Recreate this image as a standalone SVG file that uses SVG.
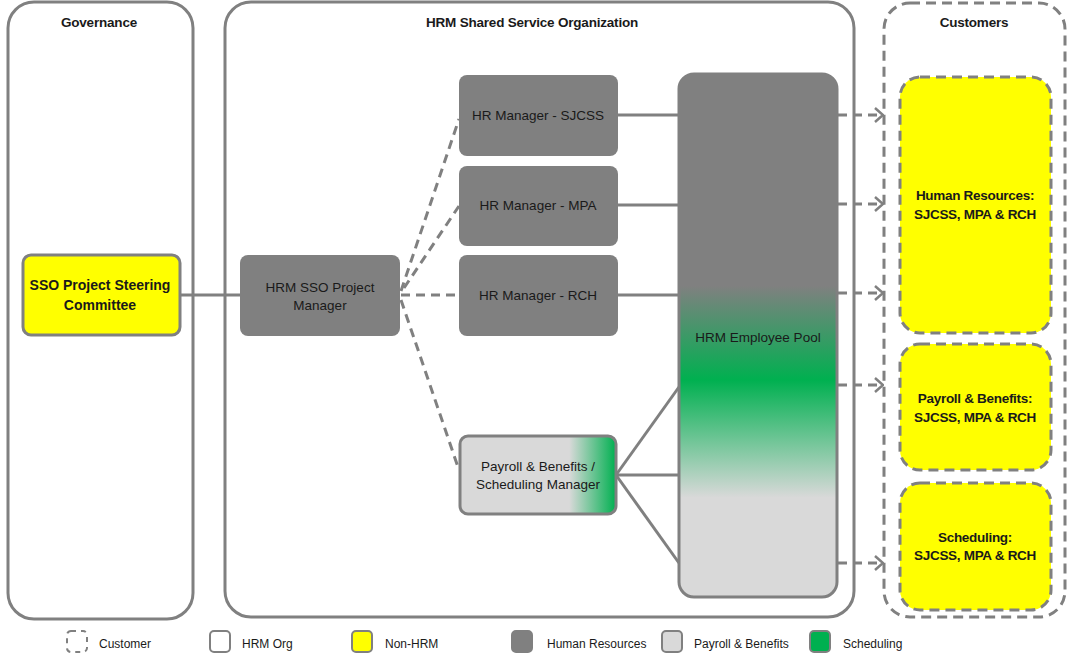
<svg xmlns="http://www.w3.org/2000/svg" width="1069" height="655" viewBox="0 0 1069 655">
<defs>
<style>
.outer{fill:#fff;stroke:#808080;stroke-width:3}
.dash{stroke-dasharray:10,6}
.gray{fill:#808080}
.t{font-family:"Liberation Sans",Arial,sans-serif;fill:#1a1a1a;text-anchor:middle}
.title{font-size:13.5px;font-weight:bold;letter-spacing:-0.2px}
.n{font-size:13.5px}
.b{font-size:14px;font-weight:bold}
.cb{font-size:13.5px;font-weight:bold;letter-spacing:-0.3px}
.lg{font-family:"Liberation Sans",Arial,sans-serif;fill:#1a1a1a;font-size:12px}
.ln{fill:none;stroke:#808080;stroke-width:3}
.lnd{fill:none;stroke:#808080;stroke-width:3;stroke-dasharray:9,6}
.ico{stroke:#808080;stroke-width:2}
</style>
<linearGradient id="poolg" x1="0" y1="0" x2="0" y2="1">
<stop offset="0" stop-color="#808080"/>
<stop offset="0.405" stop-color="#808080"/>
<stop offset="0.585" stop-color="#00b050"/>
<stop offset="0.81" stop-color="#d9d9d9"/>
<stop offset="1" stop-color="#d9d9d9"/>
</linearGradient>
<linearGradient id="payg" x1="0" y1="0" x2="1" y2="0">
<stop offset="0" stop-color="#d9d9d9"/>
<stop offset="0.7" stop-color="#d9d9d9"/>
<stop offset="1" stop-color="#00b050"/>
</linearGradient>
<marker id="chev" viewBox="0 0 10 16" refX="9" refY="8" markerWidth="10" markerHeight="16" markerUnits="userSpaceOnUse" orient="auto">
<path d="M1,1 L9,8 L1,15" fill="none" stroke="#808080" stroke-width="2.5"/>
</marker>
</defs>

<g id="governance">
<rect class="outer" x="8" y="2" width="185" height="617" rx="26"/>
<text class="t title" x="99" y="27">Governance</text>
</g>
<g id="hrm-sso">
<rect class="outer" x="225" y="2" width="629" height="615" rx="26"/>
<text class="t title" x="532" y="27">HRM Shared Service Organization</text>
</g>
<g id="customers">
<rect class="outer dash" x="884" y="3" width="181" height="614" rx="26"/>
<text class="t title" x="974" y="27">Customers</text>
</g>

<g id="connectors">
<line class="ln" x1="180" y1="295" x2="240" y2="295"/>
<line class="lnd" x1="401" y1="291" x2="459" y2="119"/>
<line class="lnd" x1="404" y1="288" x2="459" y2="206"/>
<line class="lnd" x1="401" y1="295" x2="459" y2="295"/>
<line class="lnd" x1="401" y1="300" x2="459" y2="470"/>
<line class="ln" x1="618" y1="115" x2="679" y2="115"/>
<line class="ln" x1="618" y1="205" x2="679" y2="205"/>
<line class="ln" x1="618" y1="295" x2="679" y2="295"/>
<line class="ln" x1="616" y1="475" x2="679" y2="387"/>
<line class="ln" x1="616" y1="475" x2="679" y2="475"/>
<line class="ln" x1="616" y1="475" x2="679" y2="563"/>
<line class="lnd" x1="838" y1="115" x2="883" y2="115" marker-end="url(#chev)"/>
<line class="lnd" x1="838" y1="204" x2="883" y2="204" marker-end="url(#chev)"/>
<line class="lnd" x1="838" y1="293" x2="883" y2="293" marker-end="url(#chev)"/>
<line class="lnd" x1="838" y1="385" x2="883" y2="385" marker-end="url(#chev)"/>
<line class="lnd" x1="838" y1="563" x2="883" y2="563" marker-end="url(#chev)"/>
</g>

<g id="steering">
<rect x="23" y="255" width="157" height="80" rx="8" fill="#ffff00" stroke="#808080" stroke-width="3"/>
<text class="t b" x="100" y="290">SSO Project Steering</text>
<text class="t b" x="100" y="310">Committee</text>
</g>
<g id="project-manager">
<rect class="gray" x="240" y="255" width="160" height="81" rx="8"/>
<text class="t n" x="320" y="292">HRM SSO Project</text>
<text class="t n" x="320" y="310">Manager</text>
</g>
<g id="hr-sjcss">
<rect class="gray" x="459" y="75" width="159" height="81" rx="8"/>
<text class="t n" x="538" y="120">HR Manager - SJCSS</text>
</g>
<g id="hr-mpa">
<rect class="gray" x="459" y="166" width="159" height="80" rx="8"/>
<text class="t n" x="538" y="210">HR Manager - MPA</text>
</g>
<g id="hr-rch">
<rect class="gray" x="459" y="255" width="159" height="81" rx="8"/>
<text class="t n" x="538" y="300">HR Manager - RCH</text>
</g>
<g id="payroll-manager">
<rect x="460" y="436" width="156" height="78" rx="8" fill="url(#payg)" stroke="#808080" stroke-width="3"/>
<text class="t n" x="538" y="471">Payroll &amp; Benefits /</text>
<text class="t n" x="538" y="489">Scheduling Manager</text>
</g>
<g id="employee-pool">
<rect x="679" y="74" width="158" height="523" rx="15" fill="url(#poolg)" stroke="#808080" stroke-width="3"/>
<text class="t n" x="758" y="342">HRM Employee Pool</text>
</g>
<g id="cust-hr">
<rect x="900" y="77" width="151" height="256" rx="20" fill="#ffff00" stroke="#808080" stroke-width="3" stroke-dasharray="10,6"/>
<text class="t cb" x="975" y="200">Human Resources:</text>
<text class="t cb" x="975" y="219">SJCSS, MPA &amp; RCH</text>
</g>
<g id="cust-payroll">
<rect x="900" y="344" width="151" height="126" rx="20" fill="#ffff00" stroke="#808080" stroke-width="3" stroke-dasharray="10,6"/>
<text class="t cb" x="975" y="403">Payroll &amp; Benefits:</text>
<text class="t cb" x="975" y="422">SJCSS, MPA &amp; RCH</text>
</g>
<g id="cust-scheduling">
<rect x="900" y="483" width="151" height="127" rx="20" fill="#ffff00" stroke="#808080" stroke-width="3" stroke-dasharray="10,6"/>
<text class="t cb" x="975" y="542">Scheduling:</text>
<text class="t cb" x="975" y="560">SJCSS, MPA &amp; RCH</text>
</g>

<g id="legend">
<rect x="67" y="631" width="20" height="21" rx="4" fill="#fff" class="ico" stroke-dasharray="5,5"/>
<text class="lg" x="99" y="648">Customer</text>
<rect x="210" y="631" width="20" height="21" rx="4" fill="#fff" class="ico"/>
<text class="lg" x="242" y="648">HRM Org</text>
<rect x="352" y="631" width="20" height="21" rx="4" fill="#ffff00" class="ico"/>
<text class="lg" x="385" y="648">Non-HRM</text>
<rect x="512" y="631" width="20" height="21" rx="4" fill="#808080" class="ico"/>
<text class="lg" x="547" y="648">Human Resources</text>
<rect x="662" y="631" width="20" height="21" rx="4" fill="#d9d9d9" class="ico"/>
<text class="lg" x="694" y="648">Payroll &amp; Benefits</text>
<rect x="810" y="631" width="20" height="21" rx="4" fill="#00b050" class="ico"/>
<text class="lg" x="843" y="648">Scheduling</text>
</g>
</svg>
